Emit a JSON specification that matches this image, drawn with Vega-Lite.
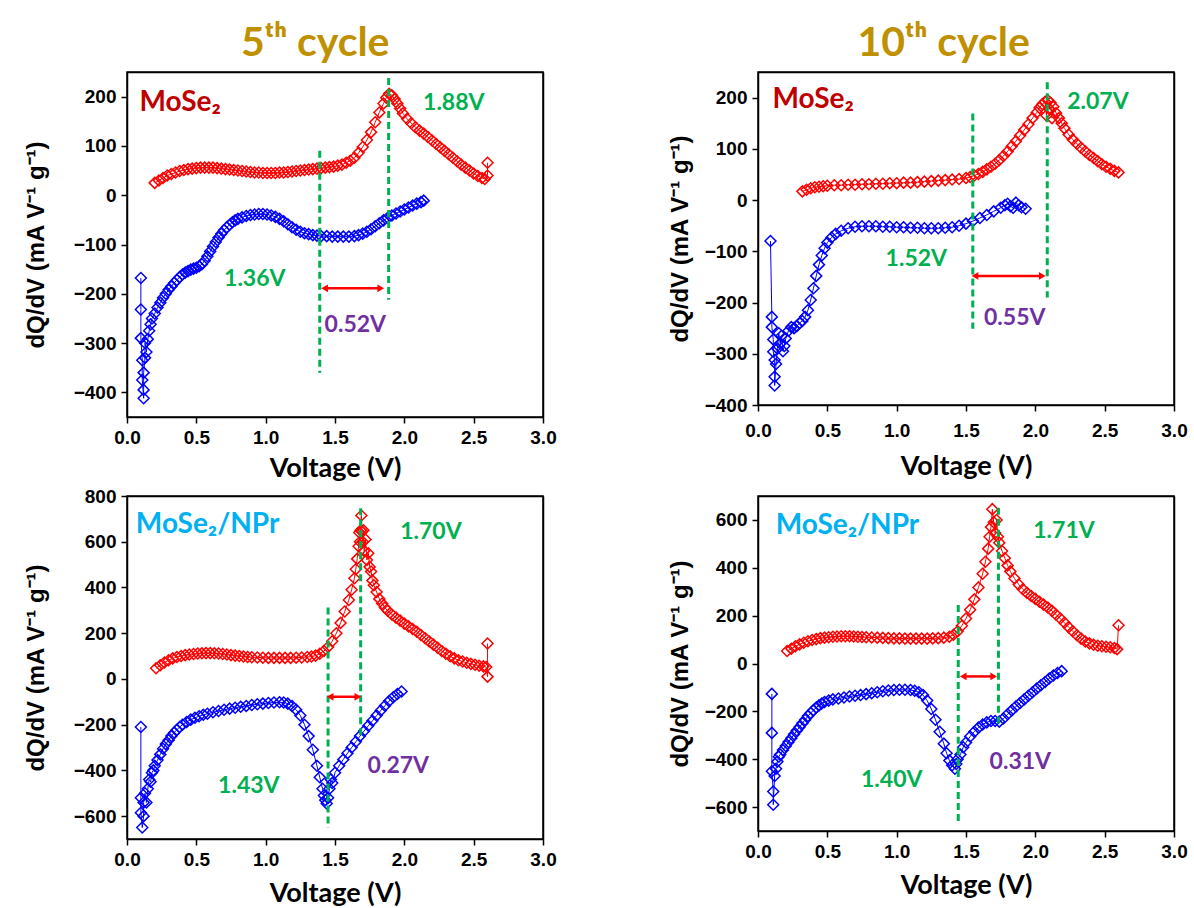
{
"$schema": "https://vega.github.io/schema/vega-lite/v6.json",
"background": "white",
"padding": {"left": 23, "top": 23, "right": 0, "bottom": 0},
"config": {
  "view": {"stroke": "#000", "strokeWidth": 1.5},
  "axis": {"grid": false, "domainColor": "#000", "domainWidth": 1.5, "tickColor": "#000", "tickWidth": 1.5,
    "labelFont": "Liberation Sans", "labelFontSize": 19, "labelFontWeight": "bold", "labelColor": "#000",
    "labelFlush": false, "labelOverlap": false, "titleColor": "#000"},
  "axisX": {"titleFont": "Lato", "titleFontSize": 27, "titleFontWeight": "bold", "labelPadding": 5, "titlePadding": 13},
  "axisY": {"titleFont": "Liberation Sans", "titleFontSize": 24, "titleFontWeight": "bold", "labelPadding": 5},
  "title": {"font": "Lato", "fontSize": 41, "fontWeight": "bold", "color": "#BF9000", "anchor": "middle"}
},
"datasets": {
"c1": [
{"s":"c","x":0.20,"y":25},{"s":"c","x":0.23,"y":30},{"s":"c","x":0.26,"y":35},{"s":"c","x":0.29,"y":40},{"s":"c","x":0.32,"y":43},{"s":"c","x":0.35,"y":46},{"s":"c","x":0.38,"y":49},{"s":"c","x":0.41,"y":51},{"s":"c","x":0.44,"y":53},{"s":"c","x":0.47,"y":54},{"s":"c","x":0.50,"y":55},{"s":"c","x":0.53,"y":56},{"s":"c","x":0.56,"y":56},{"s":"c","x":0.59,"y":56},{"s":"c","x":0.62,"y":56},{"s":"c","x":0.65,"y":55},{"s":"c","x":0.68,"y":54},{"s":"c","x":0.71,"y":53},{"s":"c","x":0.74,"y":52},{"s":"c","x":0.77,"y":51},{"s":"c","x":0.80,"y":50},{"s":"c","x":0.83,"y":49},{"s":"c","x":0.86,"y":48},{"s":"c","x":0.89,"y":47},{"s":"c","x":0.92,"y":46},{"s":"c","x":0.95,"y":46},{"s":"c","x":0.98,"y":45},{"s":"c","x":1.01,"y":45},{"s":"c","x":1.04,"y":45},{"s":"c","x":1.07,"y":45},{"s":"c","x":1.10,"y":46},{"s":"c","x":1.13,"y":46},{"s":"c","x":1.16,"y":47},{"s":"c","x":1.19,"y":48},{"s":"c","x":1.22,"y":49},{"s":"c","x":1.25,"y":50},{"s":"c","x":1.28,"y":51},{"s":"c","x":1.31,"y":52},{"s":"c","x":1.34,"y":53},{"s":"c","x":1.37,"y":54},{"s":"c","x":1.40,"y":55},{"s":"c","x":1.43,"y":56},{"s":"c","x":1.46,"y":57},{"s":"c","x":1.49,"y":58},{"s":"c","x":1.52,"y":60},{"s":"c","x":1.55,"y":62},{"s":"c","x":1.58,"y":66},{"s":"c","x":1.61,"y":70},{"s":"c","x":1.64,"y":76},{"s":"c","x":1.67,"y":86},{"s":"c","x":1.70,"y":98},{"s":"c","x":1.73,"y":112},{"s":"c","x":1.76,"y":128},{"s":"c","x":1.79,"y":148},{"s":"c","x":1.82,"y":168},{"s":"c","x":1.85,"y":186},{"s":"c","x":1.87,"y":198},{"s":"c","x":1.89,"y":206},{"s":"c","x":1.91,"y":203},{"s":"c","x":1.93,"y":195},{"s":"c","x":1.95,"y":186},{"s":"c","x":1.97,"y":176},{"s":"c","x":1.99,"y":166},{"s":"c","x":2.02,"y":155},{"s":"c","x":2.05,"y":146},{"s":"c","x":2.08,"y":138},{"s":"c","x":2.11,"y":131},{"s":"c","x":2.14,"y":125},{"s":"c","x":2.17,"y":118},{"s":"c","x":2.20,"y":111},{"s":"c","x":2.23,"y":104},{"s":"c","x":2.26,"y":97},{"s":"c","x":2.29,"y":90},{"s":"c","x":2.32,"y":83},{"s":"c","x":2.35,"y":76},{"s":"c","x":2.38,"y":69},{"s":"c","x":2.41,"y":62},{"s":"c","x":2.44,"y":56},{"s":"c","x":2.47,"y":50},{"s":"c","x":2.50,"y":44},{"s":"c","x":2.53,"y":39},{"s":"c","x":2.56,"y":35},{"s":"c","x":2.58,"y":33},{"s":"c","x":2.60,"y":40},{"s":"c","x":2.60,"y":66},
{"s":"d","x":0.10,"y":-168},{"s":"d","x":0.10,"y":-232},{"s":"d","x":0.10,"y":-290},{"s":"d","x":0.11,"y":-335},{"s":"d","x":0.11,"y":-375},{"s":"d","x":0.12,"y":-412},{"s":"d","x":0.12,"y":-395},{"s":"d","x":0.12,"y":-360},{"s":"d","x":0.13,"y":-330},{"s":"d","x":0.13,"y":-300},{"s":"d","x":0.14,"y":-318},{"s":"d","x":0.15,"y":-292},{"s":"d","x":0.16,"y":-275},{"s":"d","x":0.17,"y":-262},{"s":"d","x":0.18,"y":-250},{"s":"d","x":0.20,"y":-240},{"s":"d","x":0.22,"y":-228},{"s":"d","x":0.24,"y":-218},{"s":"d","x":0.26,"y":-208},{"s":"d","x":0.28,"y":-200},{"s":"d","x":0.30,"y":-192},{"s":"d","x":0.32,"y":-185},{"s":"d","x":0.34,"y":-178},{"s":"d","x":0.36,"y":-172},{"s":"d","x":0.38,"y":-166},{"s":"d","x":0.40,"y":-161},{"s":"d","x":0.42,"y":-157},{"s":"d","x":0.44,"y":-154},{"s":"d","x":0.46,"y":-151},{"s":"d","x":0.48,"y":-149},{"s":"d","x":0.50,"y":-147},{"s":"d","x":0.52,"y":-144},{"s":"d","x":0.54,"y":-140},{"s":"d","x":0.56,"y":-133},{"s":"d","x":0.58,"y":-124},{"s":"d","x":0.60,"y":-114},{"s":"d","x":0.62,"y":-104},{"s":"d","x":0.64,"y":-95},{"s":"d","x":0.66,"y":-86},{"s":"d","x":0.68,"y":-78},{"s":"d","x":0.70,"y":-71},{"s":"d","x":0.72,"y":-65},{"s":"d","x":0.74,"y":-60},{"s":"d","x":0.76,"y":-55},{"s":"d","x":0.78,"y":-51},{"s":"d","x":0.80,"y":-48},{"s":"d","x":0.83,"y":-45},{"s":"d","x":0.86,"y":-42},{"s":"d","x":0.89,"y":-40},{"s":"d","x":0.92,"y":-39},{"s":"d","x":0.95,"y":-38},{"s":"d","x":0.98,"y":-38},{"s":"d","x":1.01,"y":-39},{"s":"d","x":1.04,"y":-41},{"s":"d","x":1.07,"y":-44},{"s":"d","x":1.10,"y":-48},{"s":"d","x":1.13,"y":-53},{"s":"d","x":1.16,"y":-59},{"s":"d","x":1.19,"y":-65},{"s":"d","x":1.22,"y":-70},{"s":"d","x":1.25,"y":-74},{"s":"d","x":1.28,"y":-77},{"s":"d","x":1.31,"y":-79},{"s":"d","x":1.34,"y":-81},{"s":"d","x":1.37,"y":-82},{"s":"d","x":1.40,"y":-83},{"s":"d","x":1.44,"y":-83},{"s":"d","x":1.48,"y":-84},{"s":"d","x":1.52,"y":-84},{"s":"d","x":1.56,"y":-84},{"s":"d","x":1.60,"y":-84},{"s":"d","x":1.64,"y":-83},{"s":"d","x":1.67,"y":-81},{"s":"d","x":1.70,"y":-78},{"s":"d","x":1.73,"y":-74},{"s":"d","x":1.76,"y":-69},{"s":"d","x":1.79,"y":-63},{"s":"d","x":1.82,"y":-57},{"s":"d","x":1.85,"y":-51},{"s":"d","x":1.88,"y":-46},{"s":"d","x":1.91,"y":-41},{"s":"d","x":1.94,"y":-37},{"s":"d","x":1.97,"y":-33},{"s":"d","x":2.00,"y":-29},{"s":"d","x":2.03,"y":-25},{"s":"d","x":2.06,"y":-21},{"s":"d","x":2.09,"y":-17},{"s":"d","x":2.12,"y":-14},{"s":"d","x":2.14,"y":-11}
],
"a1": [
{"k":"vline","x":1.39,"y":90,"y2":-360},{"k":"vline","x":1.887,"y":238,"y2":-212},
{"k":"arrow","x":1.425,"x2":1.83,"y":-189},
{"k":"name","x":0.09,"y":187,"t":"MoSe₂"},
{"k":"peak","x":2.135,"y":187,"t":"1.88V"},{"k":"peak","x":0.70,"y":-171,"t":"1.36V"},
{"k":"gap","x":1.425,"y":-264,"t":"0.52V"}
],
"c2": [
{"s":"c","x":0.32,"y":17},{"s":"c","x":0.35,"y":20},{"s":"c","x":0.38,"y":23},{"s":"c","x":0.41,"y":25},{"s":"c","x":0.44,"y":26},{"s":"c","x":0.47,"y":27},{"s":"c","x":0.50,"y":28},{"s":"c","x":0.55,"y":29},{"s":"c","x":0.60,"y":29},{"s":"c","x":0.65,"y":30},{"s":"c","x":0.70,"y":30},{"s":"c","x":0.75,"y":31},{"s":"c","x":0.80,"y":31},{"s":"c","x":0.85,"y":32},{"s":"c","x":0.90,"y":32},{"s":"c","x":0.95,"y":33},{"s":"c","x":1.00,"y":33},{"s":"c","x":1.05,"y":34},{"s":"c","x":1.10,"y":34},{"s":"c","x":1.15,"y":35},{"s":"c","x":1.20,"y":36},{"s":"c","x":1.25,"y":37},{"s":"c","x":1.30,"y":38},{"s":"c","x":1.35,"y":39},{"s":"c","x":1.40,"y":40},{"s":"c","x":1.45,"y":41},{"s":"c","x":1.50,"y":43},{"s":"c","x":1.53,"y":45},{"s":"c","x":1.56,"y":48},{"s":"c","x":1.59,"y":51},{"s":"c","x":1.62,"y":55},{"s":"c","x":1.65,"y":60},{"s":"c","x":1.68,"y":65},{"s":"c","x":1.71,"y":71},{"s":"c","x":1.74,"y":78},{"s":"c","x":1.77,"y":86},{"s":"c","x":1.80,"y":95},{"s":"c","x":1.83,"y":105},{"s":"c","x":1.86,"y":115},{"s":"c","x":1.89,"y":126},{"s":"c","x":1.92,"y":137},{"s":"c","x":1.95,"y":148},{"s":"c","x":1.98,"y":160},{"s":"c","x":2.01,"y":171},{"s":"c","x":2.03,"y":180},{"s":"c","x":2.05,"y":187},{"s":"c","x":2.07,"y":192},{"s":"c","x":2.08,"y":165},{"s":"c","x":2.09,"y":195},{"s":"c","x":2.10,"y":178},{"s":"c","x":2.11,"y":190},{"s":"c","x":2.12,"y":160},{"s":"c","x":2.13,"y":182},{"s":"c","x":2.15,"y":170},{"s":"c","x":2.17,"y":160},{"s":"c","x":2.19,"y":150},{"s":"c","x":2.21,"y":140},{"s":"c","x":2.24,"y":128},{"s":"c","x":2.27,"y":118},{"s":"c","x":2.30,"y":110},{"s":"c","x":2.33,"y":102},{"s":"c","x":2.36,"y":95},{"s":"c","x":2.39,"y":88},{"s":"c","x":2.42,"y":82},{"s":"c","x":2.45,"y":76},{"s":"c","x":2.48,"y":70},{"s":"c","x":2.51,"y":65},{"s":"c","x":2.54,"y":61},{"s":"c","x":2.57,"y":57},{"s":"c","x":2.60,"y":54},
{"s":"d","x":0.09,"y":-80},{"s":"d","x":0.10,"y":-228},{"s":"d","x":0.10,"y":-248},{"s":"d","x":0.11,"y":-272},{"s":"d","x":0.11,"y":-296},{"s":"d","x":0.12,"y":-312},{"s":"d","x":0.12,"y":-345},{"s":"d","x":0.12,"y":-362},{"s":"d","x":0.13,"y":-320},{"s":"d","x":0.14,"y":-290},{"s":"d","x":0.15,"y":-260},{"s":"d","x":0.16,"y":-280},{"s":"d","x":0.17,"y":-265},{"s":"d","x":0.18,"y":-295},{"s":"d","x":0.19,"y":-285},{"s":"d","x":0.20,"y":-270},{"s":"d","x":0.22,"y":-255},{"s":"d","x":0.24,"y":-248},{"s":"d","x":0.26,"y":-250},{"s":"d","x":0.28,"y":-246},{"s":"d","x":0.30,"y":-240},{"s":"d","x":0.32,"y":-236},{"s":"d","x":0.34,"y":-228},{"s":"d","x":0.36,"y":-215},{"s":"d","x":0.38,"y":-195},{"s":"d","x":0.40,"y":-172},{"s":"d","x":0.42,"y":-148},{"s":"d","x":0.44,"y":-126},{"s":"d","x":0.46,"y":-108},{"s":"d","x":0.48,"y":-94},{"s":"d","x":0.50,"y":-83},{"s":"d","x":0.53,"y":-73},{"s":"d","x":0.56,"y":-66},{"s":"d","x":0.60,"y":-60},{"s":"d","x":0.65,"y":-55},{"s":"d","x":0.70,"y":-52},{"s":"d","x":0.75,"y":-51},{"s":"d","x":0.80,"y":-51},{"s":"d","x":0.85,"y":-51},{"s":"d","x":0.90,"y":-52},{"s":"d","x":0.95,"y":-52},{"s":"d","x":1.00,"y":-53},{"s":"d","x":1.05,"y":-53},{"s":"d","x":1.10,"y":-54},{"s":"d","x":1.15,"y":-54},{"s":"d","x":1.20,"y":-55},{"s":"d","x":1.25,"y":-55},{"s":"d","x":1.30,"y":-55},{"s":"d","x":1.35,"y":-54},{"s":"d","x":1.40,"y":-53},{"s":"d","x":1.45,"y":-50},{"s":"d","x":1.50,"y":-46},{"s":"d","x":1.55,"y":-41},{"s":"d","x":1.60,"y":-35},{"s":"d","x":1.65,"y":-29},{"s":"d","x":1.70,"y":-22},{"s":"d","x":1.75,"y":-15},{"s":"d","x":1.78,"y":-10},{"s":"d","x":1.80,"y":-7},{"s":"d","x":1.82,"y":-12},{"s":"d","x":1.84,"y":-15},{"s":"d","x":1.86,"y":-5},{"s":"d","x":1.88,"y":-10},{"s":"d","x":1.90,"y":-14},{"s":"d","x":1.93,"y":-17}
],
"a2": [
{"k":"vline","x":1.549,"y":169,"y2":-251},{"k":"vline","x":2.086,"y":230,"y2":-190},
{"k":"arrow","x":1.565,"x2":2.05,"y":-148},
{"k":"name","x":0.104,"y":195,"t":"MoSe₂"},
{"k":"peak","x":2.23,"y":192,"t":"2.07V"},{"k":"peak","x":0.92,"y":-115,"t":"1.52V"},
{"k":"gap","x":1.63,"y":-231,"t":"0.55V"}
],
"c3": [
{"s":"c","x":0.21,"y":47},{"s":"c","x":0.24,"y":60},{"s":"c","x":0.27,"y":72},{"s":"c","x":0.30,"y":82},{"s":"c","x":0.33,"y":90},{"s":"c","x":0.36,"y":96},{"s":"c","x":0.39,"y":100},{"s":"c","x":0.42,"y":104},{"s":"c","x":0.45,"y":107},{"s":"c","x":0.48,"y":109},{"s":"c","x":0.51,"y":111},{"s":"c","x":0.54,"y":112},{"s":"c","x":0.57,"y":113},{"s":"c","x":0.60,"y":113},{"s":"c","x":0.63,"y":112},{"s":"c","x":0.66,"y":111},{"s":"c","x":0.69,"y":109},{"s":"c","x":0.72,"y":107},{"s":"c","x":0.75,"y":104},{"s":"c","x":0.78,"y":102},{"s":"c","x":0.81,"y":100},{"s":"c","x":0.84,"y":98},{"s":"c","x":0.87,"y":96},{"s":"c","x":0.90,"y":95},{"s":"c","x":0.94,"y":94},{"s":"c","x":0.98,"y":93},{"s":"c","x":1.02,"y":92},{"s":"c","x":1.06,"y":92},{"s":"c","x":1.10,"y":92},{"s":"c","x":1.14,"y":92},{"s":"c","x":1.18,"y":92},{"s":"c","x":1.22,"y":93},{"s":"c","x":1.26,"y":94},{"s":"c","x":1.30,"y":96},{"s":"c","x":1.33,"y":98},{"s":"c","x":1.36,"y":102},{"s":"c","x":1.39,"y":110},{"s":"c","x":1.42,"y":122},{"s":"c","x":1.45,"y":140},{"s":"c","x":1.48,"y":165},{"s":"c","x":1.51,"y":200},{"s":"c","x":1.54,"y":245},{"s":"c","x":1.57,"y":295},{"s":"c","x":1.60,"y":345},{"s":"c","x":1.62,"y":390},{"s":"c","x":1.64,"y":440},{"s":"c","x":1.65,"y":480},{"s":"c","x":1.66,"y":525},{"s":"c","x":1.67,"y":580},{"s":"c","x":1.675,"y":640},{"s":"c","x":1.68,"y":600},{"s":"c","x":1.685,"y":650},{"s":"c","x":1.69,"y":715},{"s":"c","x":1.695,"y":645},{"s":"c","x":1.70,"y":600},{"s":"c","x":1.705,"y":650},{"s":"c","x":1.71,"y":560},{"s":"c","x":1.72,"y":610},{"s":"c","x":1.73,"y":520},{"s":"c","x":1.74,"y":550},{"s":"c","x":1.75,"y":490},{"s":"c","x":1.76,"y":470},{"s":"c","x":1.77,"y":430},{"s":"c","x":1.78,"y":410},{"s":"c","x":1.80,"y":380},{"s":"c","x":1.82,"y":350},{"s":"c","x":1.84,"y":330},{"s":"c","x":1.86,"y":312},{"s":"c","x":1.88,"y":298},{"s":"c","x":1.91,"y":282},{"s":"c","x":1.94,"y":268},{"s":"c","x":1.97,"y":255},{"s":"c","x":2.00,"y":242},{"s":"c","x":2.03,"y":230},{"s":"c","x":2.06,"y":218},{"s":"c","x":2.09,"y":206},{"s":"c","x":2.12,"y":192},{"s":"c","x":2.15,"y":178},{"s":"c","x":2.18,"y":164},{"s":"c","x":2.21,"y":150},{"s":"c","x":2.24,"y":136},{"s":"c","x":2.27,"y":122},{"s":"c","x":2.30,"y":110},{"s":"c","x":2.33,"y":99},{"s":"c","x":2.36,"y":90},{"s":"c","x":2.39,"y":82},{"s":"c","x":2.42,"y":76},{"s":"c","x":2.45,"y":71},{"s":"c","x":2.48,"y":66},{"s":"c","x":2.51,"y":62},{"s":"c","x":2.54,"y":58},{"s":"c","x":2.57,"y":55},{"s":"c","x":2.59,"y":52},{"s":"c","x":2.60,"y":10},{"s":"c","x":2.60,"y":155},
{"s":"d","x":0.10,"y":-210},{"s":"d","x":0.10,"y":-520},{"s":"d","x":0.10,"y":-585},{"s":"d","x":0.11,"y":-650},{"s":"d","x":0.12,"y":-600},{"s":"d","x":0.12,"y":-540},{"s":"d","x":0.13,"y":-500},{"s":"d","x":0.14,"y":-540},{"s":"d","x":0.15,"y":-480},{"s":"d","x":0.16,"y":-440},{"s":"d","x":0.17,"y":-450},{"s":"d","x":0.18,"y":-410},{"s":"d","x":0.19,"y":-400},{"s":"d","x":0.20,"y":-380},{"s":"d","x":0.22,"y":-355},{"s":"d","x":0.24,"y":-330},{"s":"d","x":0.26,"y":-305},{"s":"d","x":0.28,"y":-285},{"s":"d","x":0.30,"y":-268},{"s":"d","x":0.32,"y":-250},{"s":"d","x":0.34,"y":-235},{"s":"d","x":0.36,"y":-222},{"s":"d","x":0.38,"y":-210},{"s":"d","x":0.40,"y":-200},{"s":"d","x":0.43,"y":-188},{"s":"d","x":0.46,"y":-178},{"s":"d","x":0.49,"y":-170},{"s":"d","x":0.52,"y":-163},{"s":"d","x":0.55,"y":-157},{"s":"d","x":0.58,"y":-152},{"s":"d","x":0.62,"y":-146},{"s":"d","x":0.66,"y":-140},{"s":"d","x":0.70,"y":-135},{"s":"d","x":0.74,"y":-130},{"s":"d","x":0.78,"y":-126},{"s":"d","x":0.82,"y":-122},{"s":"d","x":0.86,"y":-118},{"s":"d","x":0.90,"y":-114},{"s":"d","x":0.94,"y":-111},{"s":"d","x":0.98,"y":-108},{"s":"d","x":1.02,"y":-105},{"s":"d","x":1.06,"y":-103},{"s":"d","x":1.10,"y":-102},{"s":"d","x":1.13,"y":-103},{"s":"d","x":1.16,"y":-108},{"s":"d","x":1.19,"y":-118},{"s":"d","x":1.22,"y":-135},{"s":"d","x":1.25,"y":-160},{"s":"d","x":1.28,"y":-200},{"s":"d","x":1.31,"y":-250},{"s":"d","x":1.34,"y":-310},{"s":"d","x":1.37,"y":-380},{"s":"d","x":1.39,"y":-430},{"s":"d","x":1.41,"y":-480},{"s":"d","x":1.42,"y":-510},{"s":"d","x":1.43,"y":-530},{"s":"d","x":1.44,"y":-545},{"s":"d","x":1.45,"y":-520},{"s":"d","x":1.46,"y":-480},{"s":"d","x":1.47,"y":-440},{"s":"d","x":1.48,"y":-455},{"s":"d","x":1.50,"y":-410},{"s":"d","x":1.53,"y":-380},{"s":"d","x":1.56,"y":-352},{"s":"d","x":1.59,"y":-325},{"s":"d","x":1.62,"y":-300},{"s":"d","x":1.65,"y":-275},{"s":"d","x":1.68,"y":-250},{"s":"d","x":1.71,"y":-228},{"s":"d","x":1.74,"y":-205},{"s":"d","x":1.77,"y":-183},{"s":"d","x":1.80,"y":-160},{"s":"d","x":1.83,"y":-138},{"s":"d","x":1.86,"y":-117},{"s":"d","x":1.89,"y":-97},{"s":"d","x":1.92,"y":-80},{"s":"d","x":1.95,"y":-66},{"s":"d","x":1.98,"y":-55}
],
"a3": [
{"k":"vline","x":1.45,"y":312,"y2":-651},{"k":"vline","x":1.685,"y":746,"y2":-247},
{"k":"arrow","x":1.465,"x2":1.665,"y":-78},
{"k":"name","x":0.064,"y":672,"t":"MoSe₂/NPr"},
{"k":"peak","x":1.97,"y":643,"t":"1.70V"},{"k":"peak","x":0.657,"y":-468,"t":"1.43V"},
{"k":"gap","x":1.735,"y":-379,"t":"0.27V"}
],
"c4": [
{"s":"c","x":0.21,"y":52},{"s":"c","x":0.24,"y":62},{"s":"c","x":0.27,"y":72},{"s":"c","x":0.30,"y":80},{"s":"c","x":0.33,"y":87},{"s":"c","x":0.36,"y":93},{"s":"c","x":0.39,"y":98},{"s":"c","x":0.42,"y":102},{"s":"c","x":0.45,"y":106},{"s":"c","x":0.48,"y":108},{"s":"c","x":0.51,"y":110},{"s":"c","x":0.54,"y":112},{"s":"c","x":0.57,"y":113},{"s":"c","x":0.60,"y":114},{"s":"c","x":0.63,"y":114},{"s":"c","x":0.66,"y":114},{"s":"c","x":0.69,"y":113},{"s":"c","x":0.72,"y":112},{"s":"c","x":0.75,"y":111},{"s":"c","x":0.78,"y":110},{"s":"c","x":0.82,"y":109},{"s":"c","x":0.86,"y":108},{"s":"c","x":0.90,"y":107},{"s":"c","x":0.94,"y":106},{"s":"c","x":0.98,"y":105},{"s":"c","x":1.02,"y":105},{"s":"c","x":1.06,"y":104},{"s":"c","x":1.10,"y":104},{"s":"c","x":1.14,"y":104},{"s":"c","x":1.18,"y":104},{"s":"c","x":1.22,"y":104},{"s":"c","x":1.26,"y":105},{"s":"c","x":1.30,"y":106},{"s":"c","x":1.34,"y":108},{"s":"c","x":1.38,"y":112},{"s":"c","x":1.41,"y":120},{"s":"c","x":1.44,"y":135},{"s":"c","x":1.47,"y":158},{"s":"c","x":1.50,"y":188},{"s":"c","x":1.53,"y":225},{"s":"c","x":1.56,"y":268},{"s":"c","x":1.59,"y":318},{"s":"c","x":1.62,"y":375},{"s":"c","x":1.64,"y":425},{"s":"c","x":1.66,"y":480},{"s":"c","x":1.67,"y":530},{"s":"c","x":1.68,"y":570},{"s":"c","x":1.69,"y":645},{"s":"c","x":1.70,"y":590},{"s":"c","x":1.71,"y":545},{"s":"c","x":1.72,"y":600},{"s":"c","x":1.73,"y":530},{"s":"c","x":1.74,"y":505},{"s":"c","x":1.76,"y":470},{"s":"c","x":1.78,"y":440},{"s":"c","x":1.80,"y":410},{"s":"c","x":1.82,"y":385},{"s":"c","x":1.85,"y":355},{"s":"c","x":1.88,"y":330},{"s":"c","x":1.91,"y":310},{"s":"c","x":1.94,"y":295},{"s":"c","x":1.97,"y":282},{"s":"c","x":2.00,"y":270},{"s":"c","x":2.03,"y":258},{"s":"c","x":2.06,"y":246},{"s":"c","x":2.09,"y":234},{"s":"c","x":2.12,"y":220},{"s":"c","x":2.15,"y":204},{"s":"c","x":2.18,"y":188},{"s":"c","x":2.21,"y":170},{"s":"c","x":2.24,"y":152},{"s":"c","x":2.27,"y":135},{"s":"c","x":2.30,"y":118},{"s":"c","x":2.33,"y":104},{"s":"c","x":2.36,"y":92},{"s":"c","x":2.39,"y":84},{"s":"c","x":2.42,"y":78},{"s":"c","x":2.45,"y":74},{"s":"c","x":2.48,"y":72},{"s":"c","x":2.51,"y":70},{"s":"c","x":2.54,"y":68},{"s":"c","x":2.57,"y":65},{"s":"c","x":2.59,"y":60},{"s":"c","x":2.60,"y":160},
{"s":"d","x":0.10,"y":-127},{"s":"d","x":0.10,"y":-290},{"s":"d","x":0.10,"y":-450},{"s":"d","x":0.11,"y":-535},{"s":"d","x":0.11,"y":-590},{"s":"d","x":0.12,"y":-470},{"s":"d","x":0.13,"y":-440},{"s":"d","x":0.14,"y":-410},{"s":"d","x":0.15,"y":-390},{"s":"d","x":0.16,"y":-380},{"s":"d","x":0.18,"y":-362},{"s":"d","x":0.20,"y":-345},{"s":"d","x":0.22,"y":-328},{"s":"d","x":0.24,"y":-312},{"s":"d","x":0.26,"y":-296},{"s":"d","x":0.28,"y":-280},{"s":"d","x":0.30,"y":-265},{"s":"d","x":0.32,"y":-250},{"s":"d","x":0.34,"y":-235},{"s":"d","x":0.36,"y":-220},{"s":"d","x":0.38,"y":-207},{"s":"d","x":0.40,"y":-195},{"s":"d","x":0.42,"y":-184},{"s":"d","x":0.44,"y":-175},{"s":"d","x":0.46,"y":-167},{"s":"d","x":0.48,"y":-161},{"s":"d","x":0.51,"y":-155},{"s":"d","x":0.54,"y":-150},{"s":"d","x":0.58,"y":-146},{"s":"d","x":0.62,"y":-142},{"s":"d","x":0.66,"y":-138},{"s":"d","x":0.70,"y":-135},{"s":"d","x":0.74,"y":-132},{"s":"d","x":0.78,"y":-128},{"s":"d","x":0.82,"y":-124},{"s":"d","x":0.86,"y":-120},{"s":"d","x":0.90,"y":-116},{"s":"d","x":0.94,"y":-113},{"s":"d","x":0.98,"y":-111},{"s":"d","x":1.02,"y":-110},{"s":"d","x":1.06,"y":-110},{"s":"d","x":1.10,"y":-111},{"s":"d","x":1.13,"y":-114},{"s":"d","x":1.16,"y":-120},{"s":"d","x":1.19,"y":-132},{"s":"d","x":1.22,"y":-155},{"s":"d","x":1.25,"y":-190},{"s":"d","x":1.28,"y":-235},{"s":"d","x":1.31,"y":-285},{"s":"d","x":1.34,"y":-335},{"s":"d","x":1.36,"y":-375},{"s":"d","x":1.38,"y":-405},{"s":"d","x":1.40,"y":-425},{"s":"d","x":1.42,"y":-440},{"s":"d","x":1.43,"y":-420},{"s":"d","x":1.44,"y":-400},{"s":"d","x":1.46,"y":-380},{"s":"d","x":1.48,"y":-350},{"s":"d","x":1.50,"y":-330},{"s":"d","x":1.53,"y":-305},{"s":"d","x":1.56,"y":-285},{"s":"d","x":1.59,"y":-268},{"s":"d","x":1.62,"y":-255},{"s":"d","x":1.65,"y":-246},{"s":"d","x":1.68,"y":-240},{"s":"d","x":1.71,"y":-240},{"s":"d","x":1.74,"y":-243},{"s":"d","x":1.77,"y":-230},{"s":"d","x":1.80,"y":-212},{"s":"d","x":1.83,"y":-196},{"s":"d","x":1.86,"y":-180},{"s":"d","x":1.89,"y":-165},{"s":"d","x":1.92,"y":-150},{"s":"d","x":1.95,"y":-135},{"s":"d","x":1.98,"y":-120},{"s":"d","x":2.01,"y":-105},{"s":"d","x":2.04,"y":-91},{"s":"d","x":2.07,"y":-77},{"s":"d","x":2.10,"y":-63},{"s":"d","x":2.13,"y":-50},{"s":"d","x":2.16,"y":-40},{"s":"d","x":2.19,"y":-32}
],
"a4": [
{"k":"vline","x":1.444,"y":245,"y2":-658},{"k":"vline","x":1.734,"y":651,"y2":-251},
{"k":"arrow","x":1.48,"x2":1.70,"y":-54},
{"k":"name","x":0.128,"y":575,"t":"MoSe₂/NPr"},
{"k":"peak","x":1.985,"y":555,"t":"1.71V"},{"k":"peak","x":0.743,"y":-486,"t":"1.40V"},
{"k":"gap","x":1.67,"y":-410,"t":"0.31V"}
]
},
"spacing": 110,
"hconcat": [
{
 "title": {"text": "5ᵗʰ cycle", "offset": 6, "dx": 25},
 "spacing": 4,
 "vconcat": [
  {
   "width": 416, "height": 345,
   "resolve": {"axis": {"x": "independent", "y": "independent"}},
   "layer": [
    {"layer": [
    {"data": {"name": "c1"}, "mark": {"type": "line", "strokeWidth": 1},
     "encoding": {
      "x": {"field": "x", "type": "quantitative", "scale": {"domain": [0, 3], "nice": false, "zero": false},
        "axis": {"title": "Voltage (V)", "titlePadding": 8, "labelOverlap": false, "values": [0,0.25,0.5,0.75,1,1.25,1.5,1.75,2,2.25,2.5,2.75,3], "labelExpr": "round(datum.value*2)==datum.value*2 ? format(datum.value,'.1f') : ''", "tickSize": {"condition": {"test": "round(datum.value*2)==datum.value*2", "value": 6}, "value": 3}}},
      "y": {"field": "y", "type": "quantitative", "scale": {"domain": [-450, 250], "nice": false, "zero": false},
        "axis": {"title": "dQ/dV (mA V⁻¹ g⁻¹)", "titlePadding": 25, "labelOverlap": false, "values": [-400,-350,-300,-250,-200,-150,-100,-50,0,50,100,150,200], "labelExpr": "datum.value % 100 == 0 ? datum.label : ''", "tickSize": {"condition": {"test": "datum.value % 100 == 0", "value": 6}, "value": 3}}},
      "color": {"field": "s", "type": "nominal", "scale": {"domain": ["c", "d"], "range": ["#FF0000", "#0000FF"]}, "legend": null}}},
    {"data": {"name": "c1"}, "mark": {"type": "point", "shape": "diamond", "filled": false, "size": 120, "strokeWidth": 1.5, "opacity": 1},
     "encoding": {"x": {"field": "x", "type": "quantitative"}, "y": {"field": "y", "type": "quantitative"}, "color": {"field": "s", "type": "nominal", "legend": null}}},
    {"data": {"name": "a1"}, "transform": [{"filter": "datum.k=='vline'"}], "mark": {"type": "rule", "color": "#00B050", "strokeWidth": 3, "strokeDash": [7, 4]},
     "encoding": {"x": {"field": "x", "type": "quantitative"}, "y": {"field": "y", "type": "quantitative"}, "y2": {"field": "y2"}}},
    {"data": {"name": "a1"}, "transform": [{"filter": "datum.k=='arrow'"}], "mark": {"type": "rule", "color": "#FF0000", "strokeWidth": 2.5},
     "encoding": {"x": {"field": "x", "type": "quantitative"}, "x2": {"field": "x2"}, "y": {"field": "y", "type": "quantitative"}}},
    {"data": {"name": "a1"}, "transform": [{"filter": "datum.k=='arrow'"}], "mark": {"type": "point", "shape": "triangle-left", "filled": true, "color": "#FF0000", "size": 60, "opacity": 1},
     "encoding": {"x": {"field": "x", "type": "quantitative"}, "y": {"field": "y", "type": "quantitative"}}},
    {"data": {"name": "a1"}, "transform": [{"filter": "datum.k=='arrow'"}], "mark": {"type": "point", "shape": "triangle-right", "filled": true, "color": "#FF0000", "size": 60, "opacity": 1},
     "encoding": {"x": {"field": "x2", "type": "quantitative"}, "y": {"field": "y", "type": "quantitative"}}},
    {"data": {"name": "a1"}, "transform": [{"filter": "datum.k=='name'"}], "mark": {"type": "text", "font": "Lato", "fontWeight": "bold", "fontSize": 28, "color": "#C00000", "align": "left", "baseline": "middle"},
     "encoding": {"x": {"field": "x", "type": "quantitative"}, "y": {"field": "y", "type": "quantitative"}, "text": {"field": "t"}}},
    {"data": {"name": "a1"}, "transform": [{"filter": "datum.k=='peak'"}], "mark": {"type": "text", "font": "Lato", "fontWeight": "bold", "fontSize": 23, "color": "#00B050", "align": "left", "baseline": "middle"},
     "encoding": {"x": {"field": "x", "type": "quantitative"}, "y": {"field": "y", "type": "quantitative"}, "text": {"field": "t"}}},
    {"data": {"name": "a1"}, "transform": [{"filter": "datum.k=='gap'"}], "mark": {"type": "text", "font": "Lato", "fontWeight": "bold", "fontSize": 23, "color": "#7030A0", "align": "left", "baseline": "middle"},
     "encoding": {"x": {"field": "x", "type": "quantitative"}, "y": {"field": "y", "type": "quantitative"}, "text": {"field": "t"}}}
    ]},
    {"data": {"name": "c1"}, "mark": {"type": "point", "opacity": 0},
     "encoding": {"x": {"field": "x", "type": "quantitative", "axis": {"orient": "top", "labels": false, "ticks": false, "title": null}},
       "y": {"field": "y", "type": "quantitative", "axis": {"orient": "right", "labels": false, "ticks": false, "title": null}}}}
   ]
  },
  {
   "width": 416, "height": 343,
   "resolve": {"axis": {"x": "independent", "y": "independent"}},
   "layer": [
    {"layer": [
    {"data": {"name": "c3"}, "mark": {"type": "line", "strokeWidth": 1},
     "encoding": {
      "x": {"field": "x", "type": "quantitative", "scale": {"domain": [0, 3], "nice": false, "zero": false},
        "axis": {"title": "Voltage (V)", "titlePadding": 11, "labelOverlap": false, "values": [0,0.25,0.5,0.75,1,1.25,1.5,1.75,2,2.25,2.5,2.75,3], "labelExpr": "round(datum.value*2)==datum.value*2 ? format(datum.value,'.1f') : ''", "tickSize": {"condition": {"test": "round(datum.value*2)==datum.value*2", "value": 6}, "value": 3}}},
      "y": {"field": "y", "type": "quantitative", "scale": {"domain": [-700, 800], "nice": false, "zero": false},
        "axis": {"title": "dQ/dV (mA V⁻¹ g⁻¹)", "titlePadding": 25, "labelOverlap": false, "values": [-600,-500,-400,-300,-200,-100,0,100,200,300,400,500,600,700,800], "labelExpr": "datum.value % 200 == 0 ? datum.label : ''", "tickSize": {"condition": {"test": "datum.value % 200 == 0", "value": 6}, "value": 3}}},
      "color": {"field": "s", "type": "nominal", "scale": {"domain": ["c", "d"], "range": ["#FF0000", "#0000FF"]}, "legend": null}}},
    {"data": {"name": "c3"}, "mark": {"type": "point", "shape": "diamond", "filled": false, "size": 120, "strokeWidth": 1.5, "opacity": 1},
     "encoding": {"x": {"field": "x", "type": "quantitative"}, "y": {"field": "y", "type": "quantitative"}, "color": {"field": "s", "type": "nominal", "legend": null}}},
    {"data": {"name": "a3"}, "transform": [{"filter": "datum.k=='vline'"}], "mark": {"type": "rule", "color": "#00B050", "strokeWidth": 3, "strokeDash": [7, 4]},
     "encoding": {"x": {"field": "x", "type": "quantitative"}, "y": {"field": "y", "type": "quantitative"}, "y2": {"field": "y2"}}},
    {"data": {"name": "a3"}, "transform": [{"filter": "datum.k=='arrow'"}], "mark": {"type": "rule", "color": "#FF0000", "strokeWidth": 2.5},
     "encoding": {"x": {"field": "x", "type": "quantitative"}, "x2": {"field": "x2"}, "y": {"field": "y", "type": "quantitative"}}},
    {"data": {"name": "a3"}, "transform": [{"filter": "datum.k=='arrow'"}], "mark": {"type": "point", "shape": "triangle-left", "filled": true, "color": "#FF0000", "size": 60, "opacity": 1},
     "encoding": {"x": {"field": "x", "type": "quantitative"}, "y": {"field": "y", "type": "quantitative"}}},
    {"data": {"name": "a3"}, "transform": [{"filter": "datum.k=='arrow'"}], "mark": {"type": "point", "shape": "triangle-right", "filled": true, "color": "#FF0000", "size": 60, "opacity": 1},
     "encoding": {"x": {"field": "x2", "type": "quantitative"}, "y": {"field": "y", "type": "quantitative"}}},
    {"data": {"name": "a3"}, "transform": [{"filter": "datum.k=='name'"}], "mark": {"type": "text", "font": "Lato", "fontWeight": "bold", "fontSize": 28, "color": "#00B0F0", "align": "left", "baseline": "middle"},
     "encoding": {"x": {"field": "x", "type": "quantitative"}, "y": {"field": "y", "type": "quantitative"}, "text": {"field": "t"}}},
    {"data": {"name": "a3"}, "transform": [{"filter": "datum.k=='peak'"}], "mark": {"type": "text", "font": "Lato", "fontWeight": "bold", "fontSize": 23, "color": "#00B050", "align": "left", "baseline": "middle"},
     "encoding": {"x": {"field": "x", "type": "quantitative"}, "y": {"field": "y", "type": "quantitative"}, "text": {"field": "t"}}},
    {"data": {"name": "a3"}, "transform": [{"filter": "datum.k=='gap'"}], "mark": {"type": "text", "font": "Lato", "fontWeight": "bold", "fontSize": 23, "color": "#7030A0", "align": "left", "baseline": "middle"},
     "encoding": {"x": {"field": "x", "type": "quantitative"}, "y": {"field": "y", "type": "quantitative"}, "text": {"field": "t"}}}
    ]},
    {"data": {"name": "c3"}, "mark": {"type": "point", "opacity": 0},
     "encoding": {"x": {"field": "x", "type": "quantitative", "axis": {"orient": "top", "labels": false, "ticks": false, "title": null}},
       "y": {"field": "y", "type": "quantitative", "axis": {"orient": "right", "labels": false, "ticks": false, "title": null}}}}
   ]
  }
 ]
},
{
 "title": {"text": "10ᵗʰ cycle", "offset": 6, "dx": 16},
 "spacing": 15,
 "vconcat": [
  {
   "width": 416, "height": 333,
   "resolve": {"axis": {"x": "independent", "y": "independent"}},
   "layer": [
    {"layer": [
    {"data": {"name": "c2"}, "mark": {"type": "line", "strokeWidth": 1},
     "encoding": {
      "x": {"field": "x", "type": "quantitative", "scale": {"domain": [0, 3], "nice": false, "zero": false},
        "axis": {"title": "Voltage (V)", "labelPadding": 10, "labelOverlap": false, "values": [0,0.25,0.5,0.75,1,1.25,1.5,1.75,2,2.25,2.5,2.75,3], "labelExpr": "round(datum.value*2)==datum.value*2 ? format(datum.value,'.1f') : ''", "tickSize": {"condition": {"test": "round(datum.value*2)==datum.value*2", "value": 6}, "value": 3}}},
      "y": {"field": "y", "type": "quantitative", "scale": {"domain": [-400, 250], "nice": false, "zero": false},
        "axis": {"title": "dQ/dV (mA V⁻¹ g⁻¹)", "titlePadding": 12, "labelOverlap": false, "values": [-400,-350,-300,-250,-200,-150,-100,-50,0,50,100,150,200], "labelExpr": "datum.value % 100 == 0 ? datum.label : ''", "tickSize": {"condition": {"test": "datum.value % 100 == 0", "value": 6}, "value": 3}}},
      "color": {"field": "s", "type": "nominal", "scale": {"domain": ["c", "d"], "range": ["#FF0000", "#0000FF"]}, "legend": null}}},
    {"data": {"name": "c2"}, "mark": {"type": "point", "shape": "diamond", "filled": false, "size": 120, "strokeWidth": 1.5, "opacity": 1},
     "encoding": {"x": {"field": "x", "type": "quantitative"}, "y": {"field": "y", "type": "quantitative"}, "color": {"field": "s", "type": "nominal", "legend": null}}},
    {"data": {"name": "a2"}, "transform": [{"filter": "datum.k=='vline'"}], "mark": {"type": "rule", "color": "#00B050", "strokeWidth": 3, "strokeDash": [7, 4]},
     "encoding": {"x": {"field": "x", "type": "quantitative"}, "y": {"field": "y", "type": "quantitative"}, "y2": {"field": "y2"}}},
    {"data": {"name": "a2"}, "transform": [{"filter": "datum.k=='arrow'"}], "mark": {"type": "rule", "color": "#FF0000", "strokeWidth": 2.5},
     "encoding": {"x": {"field": "x", "type": "quantitative"}, "x2": {"field": "x2"}, "y": {"field": "y", "type": "quantitative"}}},
    {"data": {"name": "a2"}, "transform": [{"filter": "datum.k=='arrow'"}], "mark": {"type": "point", "shape": "triangle-left", "filled": true, "color": "#FF0000", "size": 60, "opacity": 1},
     "encoding": {"x": {"field": "x", "type": "quantitative"}, "y": {"field": "y", "type": "quantitative"}}},
    {"data": {"name": "a2"}, "transform": [{"filter": "datum.k=='arrow'"}], "mark": {"type": "point", "shape": "triangle-right", "filled": true, "color": "#FF0000", "size": 60, "opacity": 1},
     "encoding": {"x": {"field": "x2", "type": "quantitative"}, "y": {"field": "y", "type": "quantitative"}}},
    {"data": {"name": "a2"}, "transform": [{"filter": "datum.k=='name'"}], "mark": {"type": "text", "font": "Lato", "fontWeight": "bold", "fontSize": 28, "color": "#C00000", "align": "left", "baseline": "middle"},
     "encoding": {"x": {"field": "x", "type": "quantitative"}, "y": {"field": "y", "type": "quantitative"}, "text": {"field": "t"}}},
    {"data": {"name": "a2"}, "transform": [{"filter": "datum.k=='peak'"}], "mark": {"type": "text", "font": "Lato", "fontWeight": "bold", "fontSize": 23, "color": "#00B050", "align": "left", "baseline": "middle"},
     "encoding": {"x": {"field": "x", "type": "quantitative"}, "y": {"field": "y", "type": "quantitative"}, "text": {"field": "t"}}},
    {"data": {"name": "a2"}, "transform": [{"filter": "datum.k=='gap'"}], "mark": {"type": "text", "font": "Lato", "fontWeight": "bold", "fontSize": 23, "color": "#7030A0", "align": "left", "baseline": "middle"},
     "encoding": {"x": {"field": "x", "type": "quantitative"}, "y": {"field": "y", "type": "quantitative"}, "text": {"field": "t"}}}
    ]},
    {"data": {"name": "c2"}, "mark": {"type": "point", "opacity": 0},
     "encoding": {"x": {"field": "x", "type": "quantitative", "axis": {"orient": "top", "labels": false, "ticks": false, "title": null}},
       "y": {"field": "y", "type": "quantitative", "axis": {"orient": "right", "labels": false, "ticks": false, "title": null}}}}
   ]
  },
  {
   "width": 416, "height": 335,
   "resolve": {"axis": {"x": "independent", "y": "independent"}},
   "layer": [
    {"layer": [
    {"data": {"name": "c4"}, "mark": {"type": "line", "strokeWidth": 1},
     "encoding": {
      "x": {"field": "x", "type": "quantitative", "scale": {"domain": [0, 3], "nice": false, "zero": false},
        "axis": {"title": "Voltage (V)", "titlePadding": 11, "labelOverlap": false, "values": [0,0.25,0.5,0.75,1,1.25,1.5,1.75,2,2.25,2.5,2.75,3], "labelExpr": "round(datum.value*2)==datum.value*2 ? format(datum.value,'.1f') : ''", "tickSize": {"condition": {"test": "round(datum.value*2)==datum.value*2", "value": 6}, "value": 3}}},
      "y": {"field": "y", "type": "quantitative", "scale": {"domain": [-700, 700], "nice": false, "zero": false},
        "axis": {"title": "dQ/dV (mA V⁻¹ g⁻¹)", "titlePadding": 12, "labelOverlap": false, "values": [-600,-500,-400,-300,-200,-100,0,100,200,300,400,500,600], "labelExpr": "datum.value % 200 == 0 ? datum.label : ''", "tickSize": {"condition": {"test": "datum.value % 200 == 0", "value": 6}, "value": 3}}},
      "color": {"field": "s", "type": "nominal", "scale": {"domain": ["c", "d"], "range": ["#FF0000", "#0000FF"]}, "legend": null}}},
    {"data": {"name": "c4"}, "mark": {"type": "point", "shape": "diamond", "filled": false, "size": 120, "strokeWidth": 1.5, "opacity": 1},
     "encoding": {"x": {"field": "x", "type": "quantitative"}, "y": {"field": "y", "type": "quantitative"}, "color": {"field": "s", "type": "nominal", "legend": null}}},
    {"data": {"name": "a4"}, "transform": [{"filter": "datum.k=='vline'"}], "mark": {"type": "rule", "color": "#00B050", "strokeWidth": 3, "strokeDash": [7, 4]},
     "encoding": {"x": {"field": "x", "type": "quantitative"}, "y": {"field": "y", "type": "quantitative"}, "y2": {"field": "y2"}}},
    {"data": {"name": "a4"}, "transform": [{"filter": "datum.k=='arrow'"}], "mark": {"type": "rule", "color": "#FF0000", "strokeWidth": 2.5},
     "encoding": {"x": {"field": "x", "type": "quantitative"}, "x2": {"field": "x2"}, "y": {"field": "y", "type": "quantitative"}}},
    {"data": {"name": "a4"}, "transform": [{"filter": "datum.k=='arrow'"}], "mark": {"type": "point", "shape": "triangle-left", "filled": true, "color": "#FF0000", "size": 60, "opacity": 1},
     "encoding": {"x": {"field": "x", "type": "quantitative"}, "y": {"field": "y", "type": "quantitative"}}},
    {"data": {"name": "a4"}, "transform": [{"filter": "datum.k=='arrow'"}], "mark": {"type": "point", "shape": "triangle-right", "filled": true, "color": "#FF0000", "size": 60, "opacity": 1},
     "encoding": {"x": {"field": "x2", "type": "quantitative"}, "y": {"field": "y", "type": "quantitative"}}},
    {"data": {"name": "a4"}, "transform": [{"filter": "datum.k=='name'"}], "mark": {"type": "text", "font": "Lato", "fontWeight": "bold", "fontSize": 28, "color": "#00B0F0", "align": "left", "baseline": "middle"},
     "encoding": {"x": {"field": "x", "type": "quantitative"}, "y": {"field": "y", "type": "quantitative"}, "text": {"field": "t"}}},
    {"data": {"name": "a4"}, "transform": [{"filter": "datum.k=='peak'"}], "mark": {"type": "text", "font": "Lato", "fontWeight": "bold", "fontSize": 23, "color": "#00B050", "align": "left", "baseline": "middle"},
     "encoding": {"x": {"field": "x", "type": "quantitative"}, "y": {"field": "y", "type": "quantitative"}, "text": {"field": "t"}}},
    {"data": {"name": "a4"}, "transform": [{"filter": "datum.k=='gap'"}], "mark": {"type": "text", "font": "Lato", "fontWeight": "bold", "fontSize": 23, "color": "#7030A0", "align": "left", "baseline": "middle"},
     "encoding": {"x": {"field": "x", "type": "quantitative"}, "y": {"field": "y", "type": "quantitative"}, "text": {"field": "t"}}}
    ]},
    {"data": {"name": "c4"}, "mark": {"type": "point", "opacity": 0},
     "encoding": {"x": {"field": "x", "type": "quantitative", "axis": {"orient": "top", "labels": false, "ticks": false, "title": null}},
       "y": {"field": "y", "type": "quantitative", "axis": {"orient": "right", "labels": false, "ticks": false, "title": null}}}}
   ]
  }
 ]
}
]
}
